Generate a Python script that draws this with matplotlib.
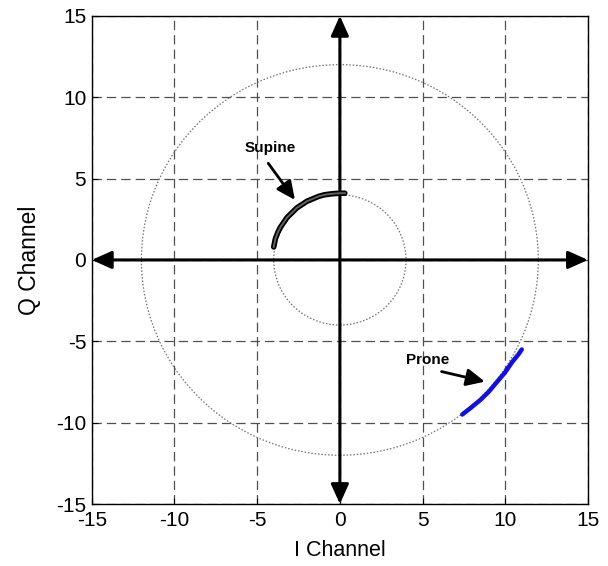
import matplotlib
matplotlib.use("Agg")
import matplotlib.pyplot as plt
from matplotlib.patches import Circle

plt.rcParams['font.family'] = ['Liberation Sans', 'DejaVu Sans']

# Data
supine_i = [-4.0, -3.9, -3.75, -3.6, -3.4, -3.2, -2.9, -2.6, -2.3, -2.0, -1.65, -1.3, -0.95, -0.6, -0.3, 0.0, 0.3]
supine_q = [0.8, 1.3, 1.7, 2.0, 2.3, 2.6, 2.9, 3.2, 3.4, 3.6, 3.75, 3.9, 4.0, 4.05, 4.08, 4.1, 4.1]
prone_i = [7.4, 7.9, 8.5, 9.0, 9.5, 10.0, 10.4, 10.8, 11.0]
prone_q = [-9.5, -9.1, -8.6, -8.1, -7.5, -6.9, -6.3, -5.8, -5.5]
ref_radii = [4.0, 12.0]
ticks = [-15, -10, -5, 0, 5, 10, 15]

fig = plt.figure(figsize=(6.08, 5.66), dpi=100)
ax = fig.add_axes([0.151, 0.1095, 0.816, 0.8625])
ax.set_xlim(-15, 15)
ax.set_ylim(-15, 15)
ax.set_xticks(ticks)
ax.set_yticks(ticks)
ax.set_xticklabels([str(t) for t in ticks])
ax.set_yticklabels([str(t) for t in ticks])
ax.tick_params(direction='in', length=4, width=0.8, labelsize=15, pad=4)
ax.tick_params(axis='x', pad=5)
for s in ax.spines.values():
    s.set_linewidth(1.0)
    s.set_color('black')

# grid
ax.grid(True, color='#505050', linestyle=(0, (7.5, 4)), linewidth=0.9)
ax.set_axisbelow(True)

# reference circles
for r in ref_radii:
    ax.add_patch(Circle((0, 0), r, fill=False, edgecolor='#707070',
                        linestyle=(0, (1.2, 1.5)), linewidth=0.9, zorder=2))

# axis arrows
arrow_kw = dict(arrowstyle='<|-|>,head_length=0.6,head_width=0.27', color='black',
                lw=2.2, mutation_scale=20, shrinkA=0, shrinkB=0)
ax.annotate('', xy=(15, 0), xytext=(-15, 0), arrowprops=arrow_kw, zorder=3)
ax.annotate('', xy=(0, 15), xytext=(0, -15), arrowprops=arrow_kw, zorder=3)

# data arcs
ax.plot(supine_i, supine_q, color='black', lw=4.0, solid_capstyle='round', zorder=4)
ax.plot(supine_i, supine_q, color='#606060', lw=1.4, zorder=5)
ax.plot(prone_i, prone_q, color='#1010e0', lw=3.2, solid_capstyle='round', zorder=4)

# annotations
small_arrow = dict(arrowstyle='-|>,head_length=0.7,head_width=0.33', color='black',
                   lw=2.0, mutation_scale=16, shrinkA=0, shrinkB=0)
ax.text(-4.2, 6.9, 'Supine', fontsize=11, fontweight='bold', ha='center', va='center', zorder=6)
ax.annotate('', xy=(-2.72, 3.69), xytext=(-4.33, 5.94), arrowprops=small_arrow, zorder=6)
ax.text(5.3, -6.12, 'Prone', fontsize=11, fontweight='bold', ha='center', va='center', zorder=6)
ax.annotate('', xy=(8.77, -7.48), xytext=(6.15, -6.86), arrowprops=small_arrow, zorder=6)

ax.set_xlabel('I Channel', fontsize=15.5, labelpad=7)
ax.set_ylabel('Q Channel', fontsize=16.5, labelpad=11)

fig.savefig('out.png', dpi=100)
